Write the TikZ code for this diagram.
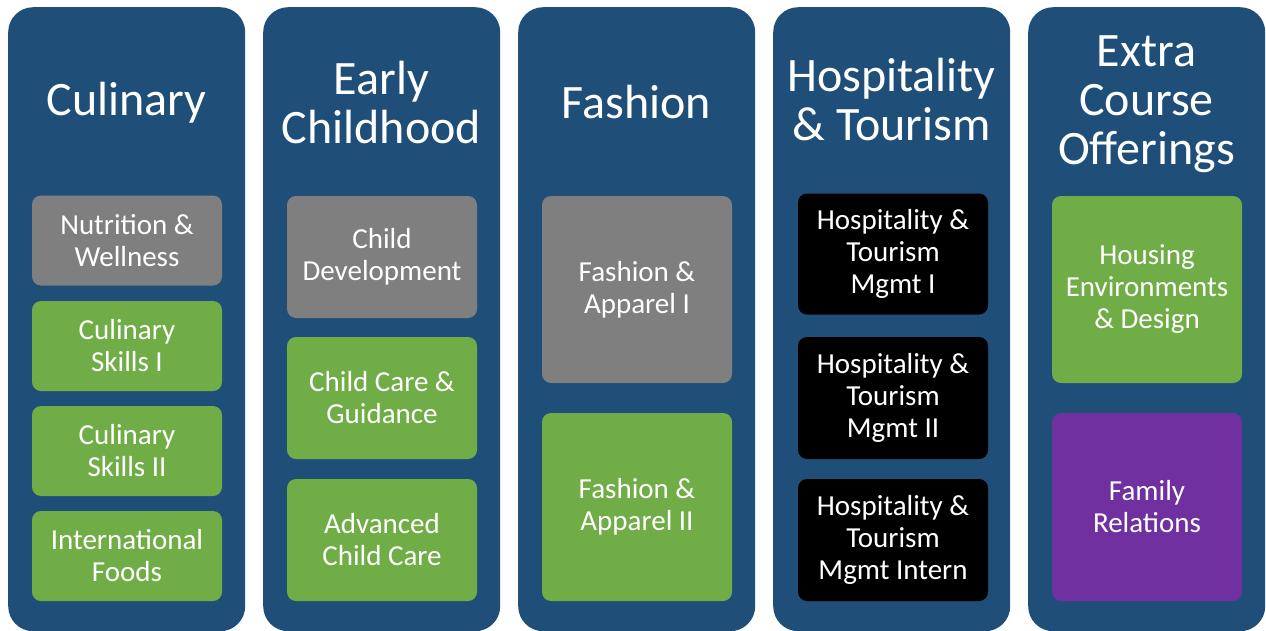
\documentclass[tikz,border=0pt]{standalone}
\usepackage{fontspec}
\setmainfont{Carlito}
\definecolor{colblue}{HTML}{1F4E79}
\definecolor{cgreen}{HTML}{70AD47}
\definecolor{cgray}{HTML}{7F7F7F}
\definecolor{cpurple}{HTML}{7030A0}
\begin{document}
\begin{tikzpicture}[x=1pt,y=-1pt,
  column/.style={fill=colblue, rounded corners=25pt, minimum width=237pt, minimum height=624pt, anchor=north west, inner sep=0pt, draw=none},
  title/.style={text=white, align=center, font=\fontsize{48}{49}\selectfont, inner sep=0pt},
  course/.style={rounded corners=9pt, minimum width=190pt, text=white, align=center, font=\fontsize{29}{32}\selectfont, inner sep=0pt, draw=none},
  greenbox/.style={course, fill=cgreen},
  graybox/.style={course, fill=cgray},
  blackbox/.style={course, fill=black},
  purplebox/.style={course, fill=cpurple}]
\useasboundingbox[fill=white] (0,0) rectangle (1266,630);
\begin{scope}
\clip (0,0) rectangle (1266,630);
\node[column] (c1) at (8,7) {};
\node[column] (c2) at (263,7) {};
\node[column] (c3) at (518,7) {};
\node[column] (c4) at (773,7) {};
\node[column] (c5) at (1028,7) {};
\end{scope}
% titles
\node[title] (t1) at (126.5,103) {Culinary};
\node[title] (t2) at (381.5,102) {Early\\Childhood};
\node[title] (t3) at (636.5,102) {Fashion};
\node[title] (t4) at (891.5,100) {Hospitality\\\& Tourism};
\node[title] (t5) at (1146.5,104) {Extra\\Course\\Offerings};
% culinary
\node[graybox, minimum height=90pt] (a1) at (127,240.5) {Nutrition \&\\Wellness};
\node[greenbox, minimum height=90pt] (a2) at (127,346) {Culinary\\Skills I};
\node[greenbox, minimum height=90pt] (a3) at (127,451) {Culinary\\Skills II};
\node[greenbox, minimum height=90pt] (a4) at (127,556) {International\\Foods};
% early childhood
\node[graybox, minimum height=122pt] (b1) at (382,257) {Child\\Development};
\node[greenbox, minimum height=122pt] (b2) at (382,398) {Child Care \&\\Guidance};
\node[greenbox, minimum height=122pt] (b3) at (382,540) {Advanced\\Child Care};
% fashion
\node[graybox, minimum height=187pt] (f1) at (637,289.5) {Fashion \&\\Apparel I};
\node[greenbox, minimum height=188pt] (f2) at (637,507) {Fashion \&\\Apparel II};
% hospitality
\node[blackbox, minimum height=121pt] (h1) at (893,254) {Hospitality \&\\Tourism\\Mgmt I};
\node[blackbox, minimum height=122pt] (h2) at (893,398) {Hospitality \&\\Tourism\\Mgmt II};
\node[blackbox, minimum height=122pt] (h3) at (893,540) {Hospitality \&\\Tourism\\Mgmt Intern};
% extra
\node[greenbox, minimum height=187pt] (e1) at (1147,289.5) {Housing\\Environments\\\& Design};
\node[purplebox, minimum height=188pt] (e2) at (1147,507) {Family\\Relations};
\end{tikzpicture}
\end{document}
